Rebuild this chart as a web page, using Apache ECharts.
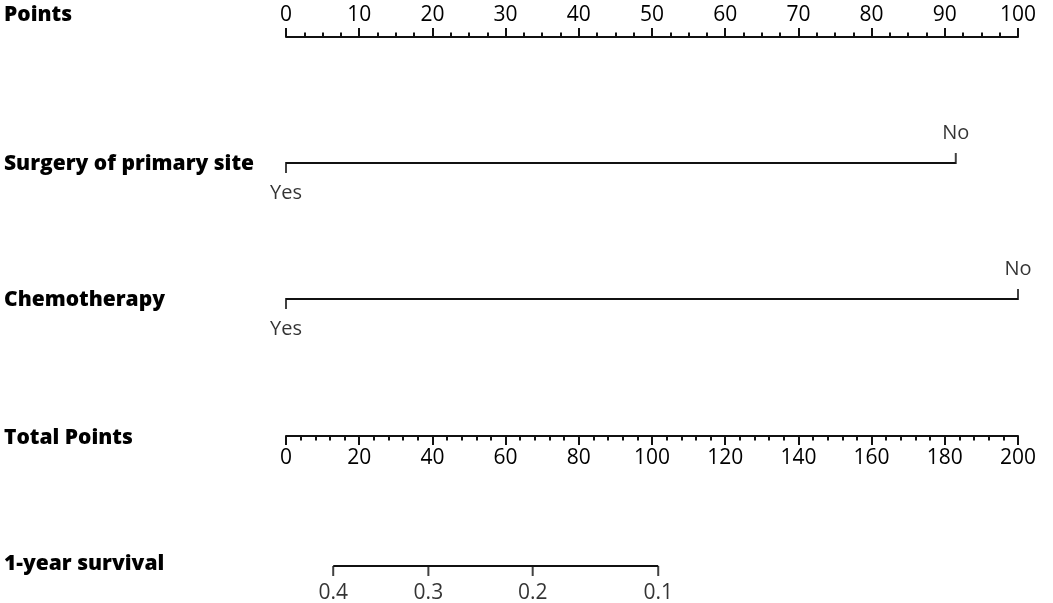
<!DOCTYPE html>
<html>
<head>
<meta charset="utf-8">
<script src="https://cdn.jsdelivr.net/npm/echarts@6/dist/echarts.min.js"></script>
<style>html,body{margin:0;padding:0;background:#fff}#c{width:1053px;height:603px}</style>
</head>
<body>
<div id="c"></div>
<script>
// ---- data ----
const rowNames = ['Points', 'Surgery of primary site', 'Chemotherapy', 'Total Points', '1-year survival'];
const pointsMin = 0, pointsMax = 100, pointsInterval = 10;
const totalMin = 0, totalMax = 200, totalInterval = 20;
const surgeryLevels = ['Yes', 'No'];
const surgeryPoints = [0, 91.5];
const chemoLevels = ['Yes', 'No'];
const chemoPoints = [0, 100];
const survivalLabels = ['0.4', '0.3', '0.2', '0.1'];
const survivalTotalPoints = [12.9, 38.9, 67.4, 101.7];

const INK = '#000';
const FONT = 'Open Sans';
const L = 286, R = 35;

const grids = [
  { left: L, right: R, top: 37, height: 10 },   // Points axis
  { left: L, right: R, top: 153, height: 20 },  // Surgery
  { left: L, right: R, top: 289, height: 20 },  // Chemo
  { left: L, right: R, top: 426, height: 10 },  // Total points
  { left: L, right: R, top: 556, height: 20 }   // Survival
];

function hiddenX(i, min, max) {
  return { gridIndex: i, type: 'value', min: min, max: max, show: false };
}
function shownX(i, min, max, interval, pos, minorSplit) {
  return {
    gridIndex: i, type: 'value', min: min, max: max, interval: interval, position: pos,
    axisLine: { show: true, onZero: false, lineStyle: { color: '#111', width: 2 } },
    axisTick: { show: true, length: 9, lineStyle: { color: '#111', width: 2 } },
    minorTick: { show: true, splitNumber: minorSplit, length: 4.5, lineStyle: { color: '#111', width: 2 } },
    axisLabel: { fontSize: 21, color: INK, fontFamily: FONT, margin: pos === 'top' ? 11 : 12 },
    splitLine: { show: false }, minorSplitLine: { show: false }
  };
}

const xAxes = [
  shownX(0, pointsMin, pointsMax, pointsInterval, 'top', 4),
  hiddenX(1, pointsMin, pointsMax),
  hiddenX(2, pointsMin, pointsMax),
  shownX(3, totalMin, totalMax, totalInterval, 'bottom', 5),
  hiddenX(4, totalMin, totalMax)
];
const yAxes = grids.map((g, i) => ({ gridIndex: i, type: 'value', min: -1, max: 1, show: false }));

function varLine(axisIdx, levels, pts) {
  return [
    {
      type: 'line', xAxisIndex: axisIdx, yAxisIndex: axisIdx, silent: true,
      data: pts.map(p => [p, 0]), showSymbol: false, animation: false,
      lineStyle: { color: '#111', width: 2 }
    },
    {
      type: 'scatter', xAxisIndex: axisIdx, yAxisIndex: axisIdx, silent: true, animation: false,
      data: pts.map((p, k) => ({
        value: [p, 0],
        symbolOffset: [0, k === 0 ? 4.5 : -4.5],
        label: {
          show: true, formatter: levels[k], position: k === 0 ? 'bottom' : 'top',
          distance: 10, fontSize: 20, color: INK, fontFamily: FONT
        }
      })),
      symbol: 'rect', symbolSize: [2, 11], itemStyle: { color: '#111' }
    }
  ];
}

const series = [].concat(
  varLine(1, surgeryLevels, surgeryPoints),
  varLine(2, chemoLevels, chemoPoints),
  [
    {
      type: 'line', xAxisIndex: 4, yAxisIndex: 4, silent: true, animation: false,
      data: [[survivalTotalPoints[0], 0], [survivalTotalPoints[survivalTotalPoints.length - 1], 0]],
      showSymbol: false, lineStyle: { color: '#111', width: 2 }
    },
    {
      type: 'scatter', xAxisIndex: 4, yAxisIndex: 4, silent: true, animation: false,
      data: survivalTotalPoints.map((p, k) => ({
        value: [p, 0],
        label: { show: true, formatter: survivalLabels[k] }
      })),
      symbol: 'rect', symbolSize: [2, 10], symbolOffset: [0, 5], itemStyle: { color: '#111' },
      label: { position: 'bottom', distance: 7, fontSize: 21, color: INK, fontFamily: FONT }
    }
  ]
);

const rowY = [15, 164, 300, 438, 564];
const graphic = rowNames.map((n, i) => ({
  type: 'text', x: 4, y: rowY[i], silent: true,
  style: { text: n, font: '800 21px "Open Sans"', fill: INK, verticalAlign: 'middle', align: 'left' }
}));

const chart = echarts.init(document.getElementById('c'), null, { renderer: 'canvas' });
chart.setOption({
  animation: false,
  backgroundColor: '#fff',
  grid: grids,
  xAxis: xAxes,
  yAxis: yAxes,
  series: series,
  graphic: graphic
});
</script>
</body>
</html>
